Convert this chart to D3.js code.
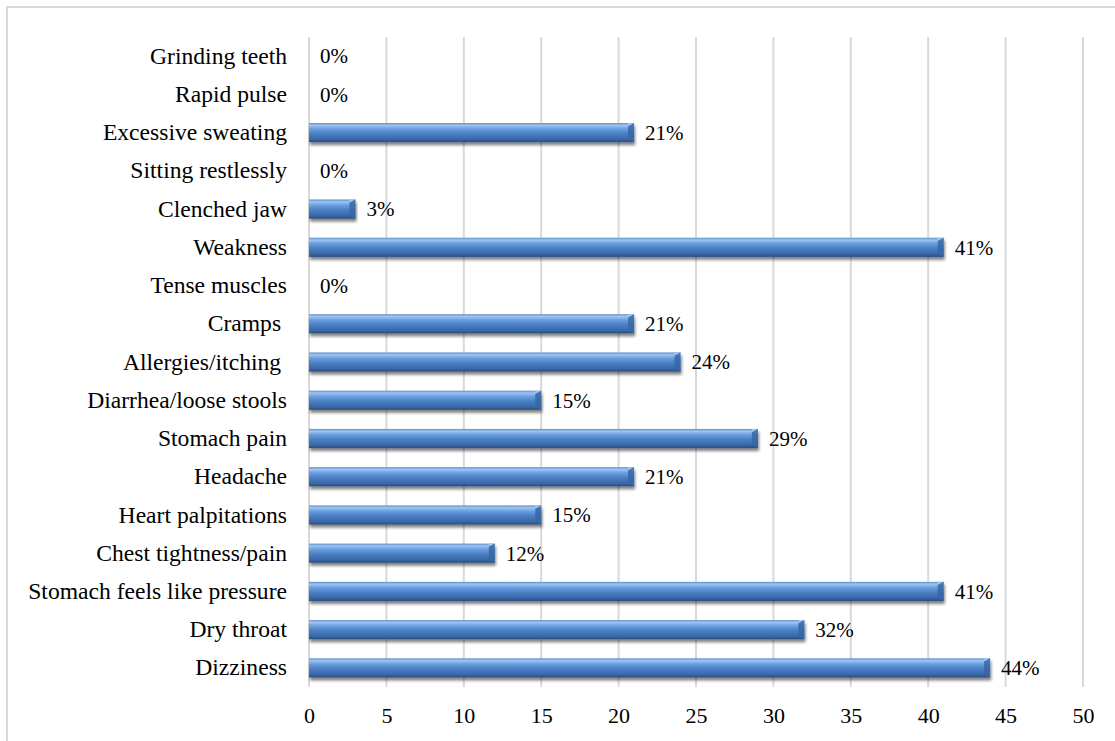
<!DOCTYPE html>
<html>
<head>
<meta charset="utf-8">
<script src="https://cdn.jsdelivr.net/npm/d3@7"></script>
<style>
  body { margin: 0; background: #fff; }
  text { font-family: "Liberation Serif", "Times New Roman", serif; fill: #000; white-space: pre; }
</style>
</head>
<body>
<div id="bar_graph"></div>
<script>
// categories, bottom to top as in the picture
var categories = ["Dizziness", "Dry throat", "Stomach feels like pressure", "Chest tightness/pain",
    "Heart palpitations", "Headache", "Stomach pain", "Diarrhea/loose stools", "Allergies/itching ",
    "Cramps ", "Tense muscles", "Weakness", "Clenched jaw", "Sitting restlessly",
    "Excessive sweating", "Rapid pulse", "Grinding teeth"];
var values = [44, 32, 41, 12, 15, 21, 29, 15, 24, 21, 0, 41, 3, 0, 21, 0, 0];
var valueLabels = ["44%", "32%", "41%", "12%", "15%", "21%", "29%", "15%", "24%", "21%", "0%",
    "41%", "3%", "0%", "21%", "0%", "0%"];
var xTicks = [0, 5, 10, 15, 20, 25, 30, 35, 40, 45, 50];

var data = categories.map(function (c, i) {
    return { key: c, value: values[i], label: valueLabels[i] };
});

var W = 1115, H = 741;
var margin = { top: 37, right: 32, bottom: 54, left: 309 },
    width = W - margin.left - margin.right,
    height = H - margin.top - margin.bottom;

var root = d3.select("#bar_graph")
    .append("svg")
    .attr("width", W)
    .attr("height", H);

// gradient + shadow for the cylinder bars
var defs = root.append("defs");
var grad = defs.append("linearGradient")
    .attr("id", "barGrad")
    .attr("x1", 0).attr("y1", 0).attr("x2", 0).attr("y2", 1);
[[0, "#5b8fd0"], [0.12, "#9ec5f2"], [0.3, "#6a9fe0"], [0.55, "#4a7fc4"],
 [0.85, "#3a68a6"], [1, "#274c7e"]].forEach(function (s) {
    grad.append("stop").attr("offset", s[0]).attr("stop-color", s[1]);
});
var shadow = defs.append("filter").attr("id", "shadow")
    .attr("x", "-5%").attr("y", "-30%").attr("width", "110%").attr("height", "190%");
shadow.append("feGaussianBlur").attr("in", "SourceAlpha").attr("stdDeviation", 1.8);
shadow.append("feOffset").attr("dx", 1).attr("dy", 3).attr("result", "blur");
shadow.append("feComponentTransfer").append("feFuncA").attr("type", "linear").attr("slope", 0.5);
var merge = shadow.append("feMerge");
merge.append("feMergeNode");
merge.append("feMergeNode").attr("in", "SourceGraphic");

// outer frame
root.append("rect")
    .attr("x", 7).attr("y", 7)
    .attr("width", W + 10).attr("height", H + 10)
    .attr("fill", "none")
    .attr("stroke", "#d9d9d9")
    .attr("stroke-width", 2);

var svg = root.append("g")
    .attr("transform", "translate(" + margin.left + "," + margin.top + ")");

var x = d3.scaleLinear()
    .domain([0, 50])
    .range([0, width]);

var y = d3.scaleBand()
    .domain(categories.slice().reverse())
    .range([0, height])
    .paddingInner(0.5)
    .paddingOuter(0.25);

// vertical gridlines
svg.selectAll("line.grid")
    .data(xTicks)
    .enter()
    .append("line")
    .attr("class", "grid")
    .attr("x1", function (d) { return x(d); })
    .attr("x2", function (d) { return x(d); })
    .attr("y1", 0)
    .attr("y2", height)
    .attr("stroke", "#d9d9d9")
    .attr("stroke-width", 2);

// x axis labels
var xAxis = svg.append("g")
    .attr("transform", "translate(0," + height + ")")
    .call(d3.axisBottom(x).tickValues(xTicks).tickSize(0).tickPadding(20).tickFormat(d3.format("d")));
xAxis.select(".domain").remove();
xAxis.selectAll("text")
    .style("font-size", "22px")
    .style("font-family", "Liberation Serif, serif");

// y axis labels
var yAxis = svg.append("g")
    .call(d3.axisLeft(y).tickSize(0).tickPadding(22));
yAxis.select(".domain").remove();
yAxis.selectAll("text")
    .style("font-size", "23.6px")
    .style("font-family", "Liberation Serif, serif");

// bars
var bars = svg.selectAll("g.bar")
    .data(data.filter(function (d) { return d.value > 0; }))
    .enter()
    .append("g")
    .attr("class", "bar")
    .attr("filter", "url(#shadow)");

bars.append("rect")
    .attr("x", x(0))
    .attr("y", function (d) { return y(d.key); })
    .attr("width", function (d) { return x(d.value) - x(0); })
    .attr("height", y.bandwidth())
    .attr("fill", "url(#barGrad)");

// bevelled right end
bars.append("path")
    .attr("d", function (d) {
        var x1 = x(d.value), y0 = y(d.key), bh = y.bandwidth(), b = 6;
        return "M" + (x1 - b) + "," + (y0 + b * 0.5) + "L" + x1 + "," + y0 +
            "L" + x1 + "," + (y0 + bh) + "L" + (x1 - b) + "," + (y0 + bh - b * 0.5) + "Z";
    })
    .attr("fill", "#3767a3")
    .attr("opacity", 0.85);
bars.append("path")
    .attr("d", function (d) {
        var x1 = x(d.value), y0 = y(d.key), b = 6;
        return "M" + (x1 - b) + "," + (y0 + b * 0.5) + "L" + x1 + "," + y0 + "L" + (x1 - b) + "," + y0 + "Z";
    })
    .attr("fill", "#9fc4ee");

// value labels
svg.selectAll("text.val")
    .data(data)
    .enter()
    .append("text")
    .attr("class", "val")
    .attr("x", function (d) { return x(d.value) + 11; })
    .attr("y", function (d) { return y(d.key) + y.bandwidth() / 2; })
    .attr("dy", "0.35em")
    .style("font-size", "21px")
    .text(function (d) { return d.label; });
</script>
</body>
</html>
